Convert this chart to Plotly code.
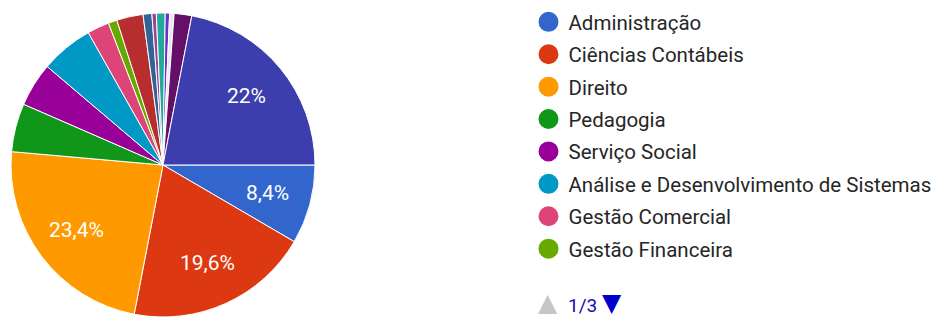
import math
import plotly.graph_objects as go

categories = [
    "Administração", "Ciências Contábeis", "Direito", "Pedagogia", "Serviço Social",
    "Análise e Desenvolvimento de Sistemas", "Gestão Comercial", "Gestão Financeira",
    "Curso 9", "Curso 10", "Curso 11", "Curso 12", "Curso 14", "Curso 15", "Curso 17", "Curso 20",
]
counts = [18, 42, 50, 11, 10, 12, 5, 2, 6, 2, 1, 2, 1, 1, 4, 47]
colors = [
    "#3366cc", "#dc3912", "#ff9900", "#109618", "#990099", "#0099c6", "#dd4477", "#66aa00",
    "#b82e2e", "#316395", "#994499", "#22aa99", "#6633cc", "#ebe6f0", "#651067", "#3b3eac",
]
legend_count = 8
page_label = "1/3"
label_threshold = 8.0

W, H = 933, 318
CX, CY, R = 163, 165, 152          # pie centre / radius in pixels
START = 90                          # first slice starts at 3 o'clock (deg clockwise from 12)
LABEL_R = 0.71
total = sum(counts)


def fmt_pct(v):
    p = round(v / total * 100, 1)
    s = f"{p:.1f}".rstrip("0").rstrip(".")
    return s.replace(".", ",") + "%"


fig = go.Figure()
fig.add_trace(go.Pie(
    labels=categories,
    values=counts,
    textinfo="none",
    marker=dict(colors=colors, line=dict(color="white", width=1)),
    sort=False,
    direction="clockwise",
    rotation=START,
    showlegend=False,
    domain=dict(x=[(CX - R) / W, (CX + R) / W], y=[(H - CY - R) / H, min(1, (H - CY + R) / H)]),
    hoverinfo="label+percent",
))

# percentage labels placed along each slice's mid-angle (as the original renderer does)
cum = 0
for v in counts:
    mid = START + (cum + v / 2) / total * 360
    cum += v
    if v / total * 100 < label_threshold:
        continue
    a = math.radians(mid)
    px = CX + LABEL_R * R * math.sin(a)
    py = CY - LABEL_R * R * math.cos(a)
    fig.add_annotation(
        x=px / W, y=1 - py / H, xref="paper", yref="paper",
        xanchor="center", yanchor="middle", showarrow=False,
        text=fmt_pct(v),
        font=dict(family="Roboto, Arial, sans-serif", size=21, color="white"),
    )

for i in range(legend_count):
    fig.add_trace(go.Scatter(
        x=[None], y=[None], mode="markers", name=categories[i],
        legendgroup=f"g{i}",
        marker=dict(color=colors[i], size=16, line=dict(color=colors[i], width=4)),
    ))

fig.add_annotation(
    x=548 / W, y=0, xref="paper", yref="paper", xanchor="center", yanchor="bottom",
    text="▲", showarrow=False, borderpad=0,
    font=dict(size=25, color="#c6c6c6", family="DejaVu Sans"),
)
fig.add_annotation(
    x=567 / W, y=0, xref="paper", yref="paper", xanchor="left", yanchor="bottom",
    text=page_label, showarrow=False, borderpad=0,
    font=dict(size=19, color="#1a0dab", family="Roboto, Arial"),
)
fig.add_annotation(
    x=612 / W, y=0, xref="paper", yref="paper", xanchor="center", yanchor="bottom",
    text="▼", showarrow=False, borderpad=0,
    font=dict(size=25, color="#0000cc", family="DejaVu Sans"),
)

fig.update_layout(
    width=W, height=H,
    margin=dict(l=0, r=0, t=0, b=0, autoexpand=False),
    paper_bgcolor="white", plot_bgcolor="white",
    xaxis=dict(visible=False), yaxis=dict(visible=False),
    legend=dict(
        x=528.5 / W, y=1 - 2 / H, xanchor="left", yanchor="top",
        font=dict(family="Roboto, Arial, sans-serif", size=20.5, color="#262626"),
        tracegroupgap=2.75, bgcolor="rgba(0,0,0,0)",
    ),
    showlegend=True,
)

fig.write_html("out.html", config={"displayModeBar": False},
               post_script="document.body.style.margin='0';")
